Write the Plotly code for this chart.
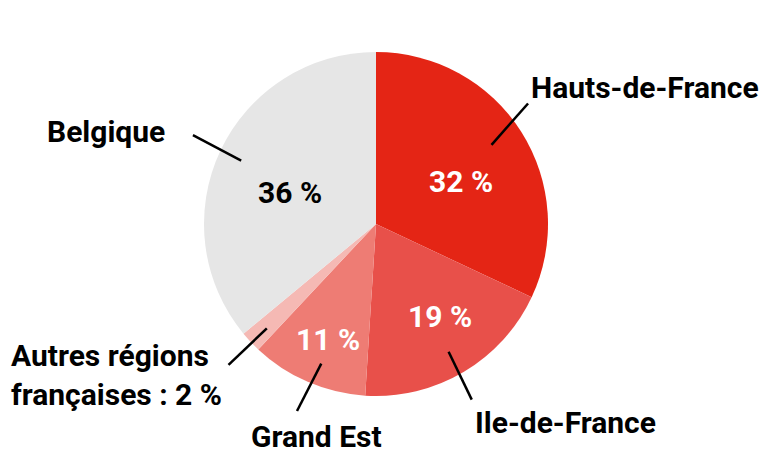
import math
import plotly.graph_objects as go

labels = ["Hauts-de-France", "Ile-de-France", "Grand Est", "Autres régions françaises", "Belgique"]
values = [32, 19, 11, 2, 36]
inside_text = ["32 %", "19 %", "11 %", "", "36 %"]
outside_text = ["Hauts-de-France", "Ile-de-France", "Grand Est",
                "Autres régions<br>françaises : 2 %", "Belgique"]
colors = ["#e42515", "#e8504a", "#ee7c74", "#f5b9b4", "#e6e6e6"]
text_colors = ["white", "white", "white", "white", "black"]

W, H = 771, 454
PAGE_OFF = 8          # default body margin of the html page
CX, CY, R = 376, 224, 172
FONT = "Roboto"
FS = 30

def to_paper(x, y):
    return (x - PAGE_OFF) / W, 1 - (y - PAGE_OFF) / H

def polar(r, ang_deg):
    a = math.radians(ang_deg)
    return CX + r * math.cos(a), CY - r * math.sin(a)

x0d, y0d = to_paper(CX - R, CY + R)
x1d, y1d = to_paper(CX + R, CY - R)

fig = go.Figure(go.Pie(
    labels=labels, values=values,
    textinfo="none",
    sort=False, direction="clockwise", rotation=0,
    marker=dict(colors=colors, line=dict(width=0)),
    domain=dict(x=[x0d, x1d], y=[y0d, y1d]),
    showlegend=False, hoverinfo="label+percent",
))

# label placement styles per slice
inside_style = [(95, -6), (112, 4), (125, 1), (0, 0), (92, 5)]          # (radius, angle delta)
line_style = [(140, 2, 194, 6), (147, -1, 200, -2), (150, 2, 203, 0.5),
              (151, 0.5, 204, 0.5), (149, 0, 203.5, -0.7)]             # (r0, da0, r1, da1)
outside_style = [(2, -16, "left"), (2, 23, "left"), (19, 25, "center"),
                 (-219, 10, "left"), (-27, -4, "right")]               # (dx, dy, xanchor)

total = sum(values)
shapes, annotations = [], []
cum = 0
for i, v in enumerate(values):
    mid = 90 - (cum + v / 2) / total * 360
    cum += v
    # inside percentage
    if inside_text[i]:
        r, da = inside_style[i]
        tx, ty = polar(r, mid + da)
        px, py = to_paper(tx, ty)
        annotations.append(dict(x=px, y=py, xref="paper", yref="paper",
                                text=inside_text[i], showarrow=False,
                                xanchor="center", yanchor="middle", borderpad=0,
                                font=dict(family=FONT, size=FS, color=text_colors[i], weight="bold")))
    # leader line
    r0, da0, r1, da1 = line_style[i]
    sx, sy = polar(r0, mid + da0)
    ex, ey = polar(r1, mid + da1)
    p0, p1 = to_paper(sx, sy), to_paper(ex, ey)
    shapes.append(dict(type="line", xref="paper", yref="paper",
                       x0=p0[0], y0=p0[1], x1=p1[0], y1=p1[1],
                       line=dict(color="black", width=2.5)))
    # outside label
    dx, dy, xa = outside_style[i]
    pa = to_paper(ex + dx, ey + dy)
    annotations.append(dict(x=pa[0], y=pa[1], xref="paper", yref="paper",
                            text=outside_text[i], showarrow=False,
                            xanchor=xa, yanchor="middle", align="left", borderpad=0,
                            font=dict(family=FONT, size=FS, color="black", weight="bold")))

fig.update_layout(
    width=W, height=H, margin=dict(l=0, r=0, t=0, b=0),
    paper_bgcolor="white", plot_bgcolor="white",
    shapes=shapes, annotations=annotations,
)
fig.write_html("out.html")
